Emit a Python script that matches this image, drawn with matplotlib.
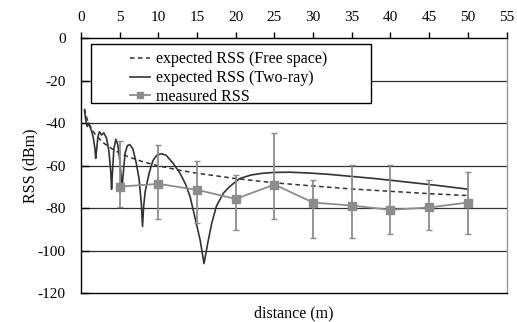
import numpy as np
import matplotlib
matplotlib.use('Agg')
import matplotlib.pyplot as plt
from matplotlib.lines import Line2D
from matplotlib.patches import Rectangle

plt.rcParams['font.family'] = ['Liberation Serif', 'DejaVu Serif']
plt.rcParams['axes.unicode_minus'] = False

# measured RSS (mean with min/max spread)
meas_d = [5, 10, 15, 20, 25, 30, 35, 40, 45, 50]
meas_rss = [-69.8, -68.5, -71.3, -75.6, -68.8, -77.3, -78.7, -80.7, -79.6, -77.3]
meas_top = [-48.3, -50.2, -57.6, -64.4, -44.7, -66.5, -59.4, -59.4, -66.6, -62.9]
meas_bot = [-79.5, -85.0, -86.7, -90.3, -84.8, -94.0, -94.0, -92.1, -90.3, -92.1]

# expected RSS, free space (dashed curve)
fs_d = [0.45, 0.6, 0.8, 1.0, 1.5, 2, 3, 4, 5, 6, 8, 10, 12.5, 15, 20, 25, 30, 35, 40, 45, 50]
fs_rss = [-33.1, -35.6, -38.1, -40.0, -43.5, -46.0, -49.5, -52.0, -54.0, -55.6, -58.1,
          -60.0, -61.9, -63.5, -66.0, -68.0, -69.5, -70.9, -72.0, -73.1, -74.0]

# expected RSS, two-ray model (solid curve)
tr_d = [0.45, 0.6, 0.8, 1.0, 1.2, 1.4, 1.6, 1.8, 1.9, 2.0, 2.2, 2.4, 2.65, 2.95, 3.3,
        3.6, 3.85, 3.95, 4.05, 4.25, 4.5, 4.75, 5.0, 5.2, 5.3, 5.4, 5.7, 6.0, 6.3,
        6.7, 7.1, 7.5, 7.8, 7.95, 8.1, 8.3, 8.8, 9.3, 9.8, 10.4, 11.0, 11.9, 12.8,
        13.5, 14.1, 14.9, 15.4, 15.9, 16.4, 16.9, 17.5, 18.4, 19.2, 20.5, 22.0,
        23.5, 25.0, 27.0, 29.5, 32.0, 35.0, 38.0, 42.0, 46.0, 50.0]
tr_rss = [-34.0, -38.0, -41.5, -40.0, -42.0, -44.0, -47.0, -52.0, -56.5, -53.0, -46.0,
          -44.0, -45.5, -44.5, -47.0, -53.0, -63.0, -71.0, -64.0, -52.0, -47.5, -50.0,
          -57.0, -66.0, -71.0, -66.0, -54.0, -50.5, -50.0, -52.0, -58.0, -66.0, -78.0,
          -88.5, -79.0, -72.0, -63.5, -57.5, -55.0, -54.3, -55.0, -58.8, -63.5, -68.5,
          -74.5, -87.0, -95.0, -106.0, -96.0, -87.0, -79.0, -72.9, -69.8, -66.0, -64.3,
          -63.5, -63.1, -63.0, -63.4, -64.0, -65.0, -66.0, -67.6, -69.2, -71.0]

labels = ['expected RSS (Free space)', 'expected RSS (Two-ray)', 'measured RSS']

fig = plt.figure(figsize=(5.17, 3.22), dpi=100)
ax = fig.add_axes([0.1567, 0.0891, 0.8230, 0.7919])

for g in [-20, -40, -60, -80, -100]:
    ax.axhline(g, color='#303030', lw=0.9, zorder=1)

ax.plot(fs_d, fs_rss, ls=(0, (3, 2.2)), color='#333333', lw=1.1, zorder=3)
ax.plot(tr_d, tr_rss, '-', color='#333333', lw=1.2, zorder=3)

m = np.array(meas_rss)
yerr = [m - np.array(meas_bot), np.array(meas_top) - m]
ax.errorbar(meas_d, meas_rss, yerr=yerr, color='#8c8c8c', lw=1.3, marker='s',
            ms=5.5, capsize=2.5, elinewidth=1.3, capthick=1.0, zorder=4)

ax.set_xlim(0, 55)
ax.set_ylim(-120, 0)
ax.set_xticks(range(0, 56, 5))
ax.set_yticks(range(-120, 1, 20))
ax.xaxis.tick_top()
ax.xaxis.set_label_position('bottom')
ax.tick_params(axis='x', direction='out', length=4, width=1, colors='black',
               labelsize=11, pad=6)
ax.tick_params(axis='y', direction='in', length=6, width=1, labelsize=11, pad=11)

for s in ['top', 'left', 'bottom']:
    ax.spines[s].set_color('black')
    ax.spines[s].set_linewidth(1.0)
ax.spines['right'].set_color('#999999')
ax.spines['right'].set_linewidth(1.0)

ax.set_xlabel('distance (m)', fontsize=11.5, labelpad=9)
ax.set_ylabel('RSS (dBm)', fontsize=11.5)
ax.yaxis.set_label_coords(-0.100, 0.5)

# legend box drawn separately (handles sit well inside the frame)
frame = Rectangle((0.0228, 0.7455), 0.658, 0.2325, transform=ax.transAxes,
                  facecolor='white', edgecolor='black', lw=1.0, zorder=5)
ax.add_patch(frame)

handles = [
    Line2D([], [], ls=(0, (3, 2.2)), color='#333333', lw=1.1),
    Line2D([], [], ls='-', color='#333333', lw=1.2),
    Line2D([], [], ls='-', color='#8c8c8c', lw=1.3, marker='s', ms=5),
]
leg = ax.legend(handles, labels, loc='upper left', bbox_to_anchor=(0.104, 0.968),
                borderaxespad=0, fontsize=11.5, frameon=False, handlelength=1.25,
                handletextpad=0.4, labelspacing=0.18, borderpad=0.3)
leg.set_zorder(6)

plt.savefig('out.png', dpi=100)
